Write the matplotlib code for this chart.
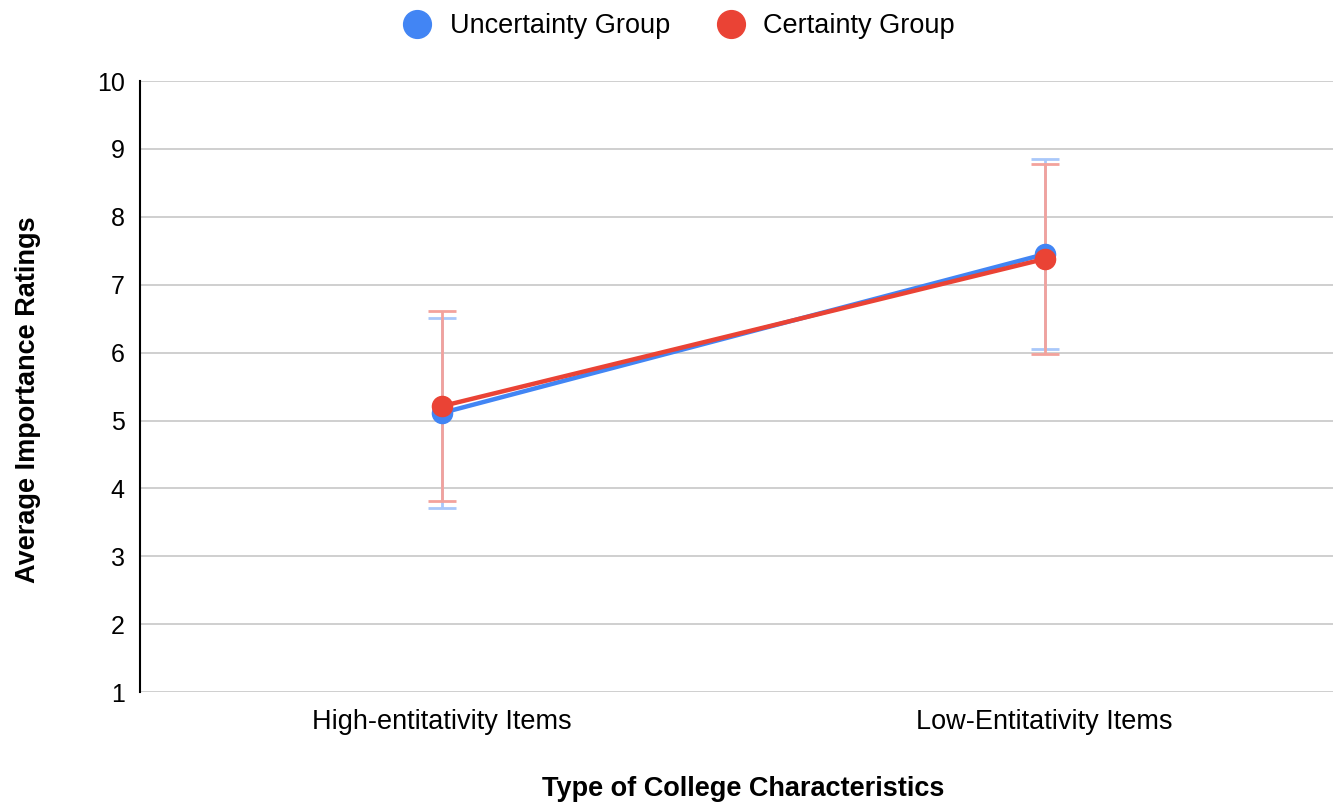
import matplotlib
matplotlib.use("Agg")
import matplotlib.pyplot as plt
from matplotlib.lines import Line2D

plt.rcParams['font.family'] = ['Liberation Sans', 'DejaVu Sans']

categories = ["High-entitativity Items", "Low-Entitativity Items"]
uncertainty_vals = [5.11, 7.45]
uncertainty_err = [1.40, 1.40]
certainty_vals = [5.21, 7.38]
certainty_err = [1.40, 1.40]
yticks = [1, 2, 3, 4, 5, 6, 7, 8, 9, 10]

blue = "#4285F4"
red = "#EA4335"
blue_pale = "#A9C8FA"
red_pale = "#F3A29C"

fig = plt.figure(figsize=(13.33, 8.02), dpi=100)
ax = fig.add_axes([0.105, 0.137, 0.905, 0.762])

x = list(range(len(categories)))

ax.errorbar(x, uncertainty_vals, yerr=uncertainty_err, fmt='none',
            ecolor=blue_pale, elinewidth=2, capsize=10, capthick=2, zorder=2)
ax.errorbar(x, certainty_vals, yerr=certainty_err, fmt='none',
            ecolor=red_pale, elinewidth=2, capsize=10, capthick=2, zorder=2.5)
ax.plot(x, uncertainty_vals, color=blue, lw=3.2, marker='o', ms=14.5, zorder=3)
ax.plot(x, certainty_vals, color=red, lw=3.2, marker='o', ms=14.5, zorder=4)

ax.set_xlim(-0.5, 1.5)
ax.set_ylim(1, 10)
ax.set_yticks(yticks)
ax.set_xticks(x)
ax.set_xticklabels(categories, fontsize=19.5)
ax.tick_params(axis='y', labelsize=18, length=0, pad=11)
ax.tick_params(axis='x', length=0, pad=12)
ax.grid(axis='y', color='#cccccc', lw=1.3)
ax.set_axisbelow(True)
for s in ['top', 'right', 'bottom']:
    ax.spines[s].set_visible(False)
ax.spines['left'].set_linewidth(1.5)
ax.spines['left'].set_color('black')

ax.set_xlabel("Type of College Characteristics", fontsize=19.5, fontweight='bold', labelpad=30)
ax.set_ylabel("Average Importance Ratings", fontsize=19.5, fontweight='bold', labelpad=40)
ax.yaxis.label.set_y(0.478)

handles = [Line2D([], [], ls='none', marker='o', ms=20, color=blue),
           Line2D([], [], ls='none', marker='o', ms=20, color=red)]
fig.legend(handles, ["Uncertainty Group", "Certainty Group"], loc='upper center',
           bbox_to_anchor=(0.5045, 1.014), ncol=2, frameon=False, fontsize=19.5,
           handletextpad=0.2, columnspacing=1.25)

fig.savefig("out.png", dpi=100)
